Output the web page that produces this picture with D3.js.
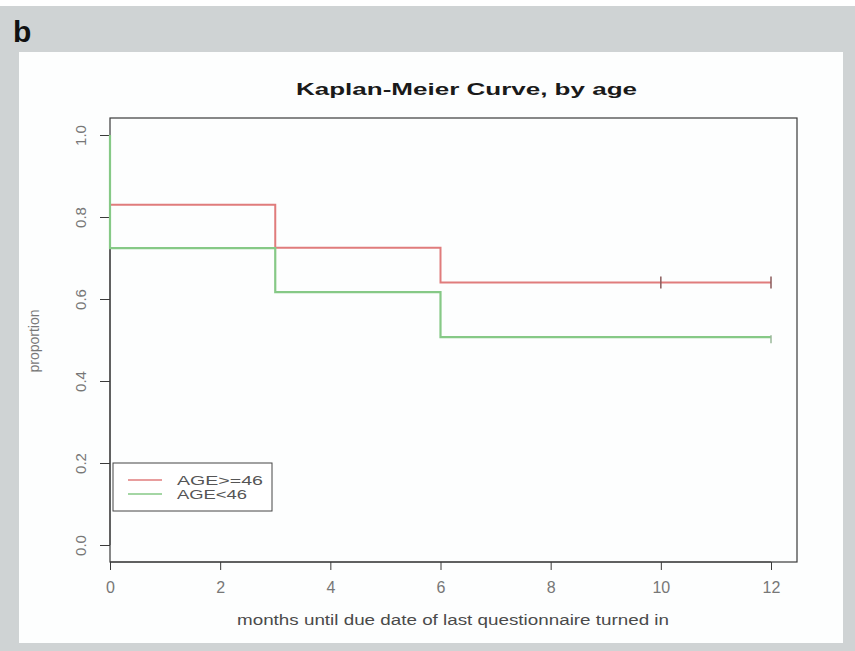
<!DOCTYPE html>
<html>
<head>
<meta charset="utf-8">
<script src="https://cdn.jsdelivr.net/npm/d3@7"></script>
<style>
  body { margin: 0; background: #ffffff; }
  text { font-family: "Liberation Sans", Arial, sans-serif; }
</style>
</head>
<body>
<script>
var w = 855; // page width
var h = 651; // page height

// data
var stepTimesOld = [0, 0, 3, 6, 12];            // months, AGE>=46
var survivalOld = [1, 0.83, 0.725, 0.64, 0.64];
var censorOld = [10, 12];
var stepTimesYoung = [0, 0, 3, 6, 12];          // months, AGE<46
var survivalYoung = [1, 0.724, 0.617, 0.507, 0.507];
var censorYoung = [12];
var xTicks = [0, 2, 4, 6, 8, 10, 12];
var yTicks = [0, 0.2, 0.4, 0.6, 0.8, 1.0];
var legendLabels = ["AGE>=46", "AGE<46"];

var redCol = "#e07c7c";
var greenCol = "#86c986";

var svg = d3.select("body").append("svg").attr("width", w).attr("height", h);

// grey figure background and white panel
svg.append("rect").attr("width", w).attr("height", h).attr("fill", "#cfd3d4");
svg.append("rect").attr("width", w).attr("height", 6).attr("fill", "#ffffff");
svg.append("rect").attr("x", 19).attr("y", 52).attr("width", 824).attr("height", 591).attr("fill", "#fdfefe");

svg.append("text").attr("x", 13).attr("y", 42).text("b")
  .style("font-size", "30px").style("font-weight", "bold").attr("fill", "#111");

var x = d3.scaleLinear().domain([0, 12]).range([110, 771]);
var y = d3.scaleLinear().domain([0, 1]).range([545, 135]);

// plot box
var box = { left: 110, right: 797, top: 118, bottom: 562 };
svg.append("rect").attr("x", box.left).attr("y", box.top)
  .attr("width", box.right - box.left).attr("height", box.bottom - box.top)
  .attr("fill", "none").attr("stroke", "#3a3a3a").attr("stroke-width", 1.2);

// axes
var xAxis = d3.axisBottom(x).tickValues(xTicks).tickSize(8).tickPadding(12).tickFormat(d3.format("d"));
var gx = svg.append("g").attr("transform", "translate(0," + box.bottom + ")").call(xAxis);
gx.select(".domain").attr("d", "M" + x(0) + ",0H" + x(12)).attr("stroke", "#3a3a3a");
gx.selectAll(".tick line").attr("stroke", "#3a3a3a");
gx.selectAll(".tick text").style("font-size", "16px").attr("fill", "#777");

var yAxis = d3.axisLeft(y).tickValues(yTicks).tickSize(10).tickFormat(d3.format(".1f"));
var gy = svg.append("g").attr("transform", "translate(" + box.left + ",0)").call(yAxis);
gy.select(".domain").attr("d", "M0," + y(0) + "V" + y(1)).attr("stroke", "#3a3a3a");
gy.selectAll(".tick line").attr("stroke", "#3a3a3a");
gy.selectAll(".tick text")
  .attr("x", null).attr("dy", null)
  .attr("text-anchor", "middle")
  .attr("transform", "translate(-29,0) rotate(-90)")
  .attr("dy", "0.35em")
  .style("font-size", "15px").attr("fill", "#777");

// title and axis labels
svg.append("text").attr("x", 296).attr("y", 95).text("Kaplan-Meier Curve, by age")
  .attr("textLength", 341).attr("lengthAdjust", "spacingAndGlyphs")
  .style("font-size", "17px").style("font-weight", "bold").attr("fill", "#1a1a1a");
svg.append("text").attr("x", 237).attr("y", 625).text("months until due date of last questionnaire turned in")
  .attr("textLength", 432).attr("lengthAdjust", "spacingAndGlyphs")
  .style("font-size", "14px").attr("fill", "#4a4a4a");
svg.append("text").attr("transform", "translate(39,341) rotate(-90)").attr("text-anchor", "middle")
  .text("proportion").style("font-size", "14px").attr("fill", "#777");

// survival curves
var line = d3.line().x(function (d) { return x(d[0]); }).y(function (d) { return y(d[1]); })
  .curve(d3.curveStepAfter);

svg.append("path").datum(d3.zip(stepTimesOld, survivalOld)).attr("d", line)
  .attr("fill", "none").attr("stroke", redCol).attr("stroke-width", 2);
svg.append("path").datum(d3.zip(stepTimesYoung, survivalYoung)).attr("d", line)
  .attr("fill", "none").attr("stroke", greenCol).attr("stroke-width", 2.2);

// censor marks
svg.selectAll(".cOld").data(censorOld).enter().append("line")
  .attr("x1", function (d) { return x(d); }).attr("x2", function (d) { return x(d); })
  .attr("y1", y(survivalOld[4]) - 6).attr("y2", y(survivalOld[4]) + 6)
  .attr("stroke", "#8a5a5a").attr("stroke-width", 1.5);
svg.selectAll(".cYoung").data(censorYoung).enter().append("line")
  .attr("x1", function (d) { return x(d); }).attr("x2", function (d) { return x(d); })
  .attr("y1", y(survivalYoung[4]) - 2).attr("y2", y(survivalYoung[4]) + 6)
  .attr("stroke", "#9ab89a").attr("stroke-width", 1.5);

// legend
svg.append("rect").attr("x", 113).attr("y", 463).attr("width", 159).attr("height", 48)
  .attr("fill", "#ffffff").attr("stroke", "#444").attr("stroke-width", 1);
var legCols = [redCol, greenCol];
legendLabels.forEach(function (lab, i) {
  var ly = 480 + i * 14;
  svg.append("line").attr("x1", 128).attr("x2", 162).attr("y1", ly).attr("y2", ly)
    .attr("stroke", legCols[i]).attr("stroke-width", 1.5);
  svg.append("text").attr("x", 177).attr("y", ly + 4.5).text(lab)
    .attr("textLength", i == 0 ? 86 : 70).attr("lengthAdjust", "spacingAndGlyphs")
    .style("font-size", "13px").attr("fill", "#555");
});
</script>
</body>
</html>
